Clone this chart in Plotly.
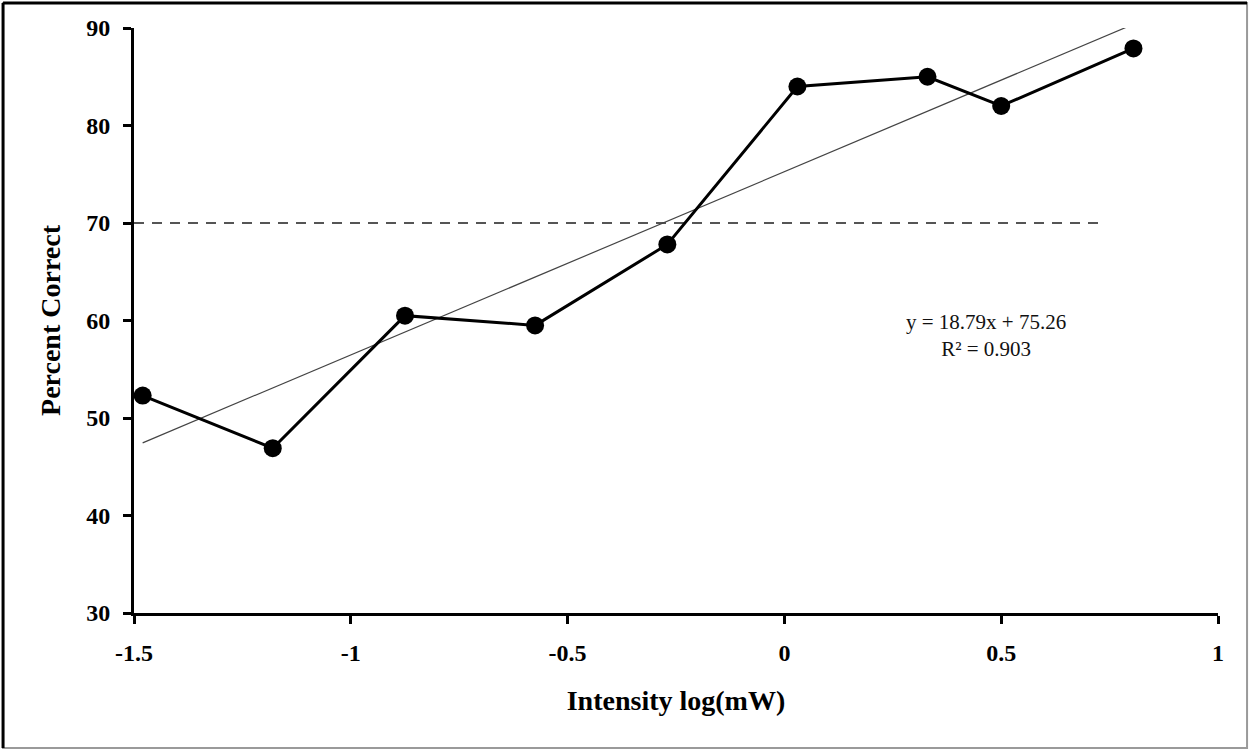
import plotly.graph_objects as go

intensity = [-1.48, -1.18, -0.875, -0.575, -0.27, 0.03, 0.33, 0.50, 0.805]
percent_correct = [52.3, 46.9, 60.5, 59.5, 67.8, 84.0, 85.0, 82.0, 87.9]
slope, intercept = 18.79, 75.26
trend_x = [-1.48, 0.795]
trend_y = [slope * x + intercept for x in trend_x]
threshold_x = [-1.5, 0.725]
threshold_y = [70, 70]
x_ticks = [-1.5, -1, -0.5, 0, 0.5, 1]
x_tick_labels = ["-1.5", "-1", "-0.5", "0", "0.5", "1"]
y_ticks = [30, 40, 50, 60, 70, 80, 90]

font = "Liberation Serif, Times New Roman, serif"

fig = go.Figure()
fig.add_trace(go.Scatter(x=threshold_x, y=threshold_y, mode="lines",
                         line=dict(color="#555555", width=2, dash="10px,8px"),
                         showlegend=False, hoverinfo="skip"))
fig.add_trace(go.Scatter(x=trend_x, y=trend_y, mode="lines",
                         line=dict(color="#444444", width=1.2),
                         showlegend=False))
fig.add_trace(go.Scatter(x=intensity, y=percent_correct, mode="lines+markers",
                         line=dict(color="black", width=3),
                         marker=dict(color="black", size=18),
                         showlegend=False))

fig.add_annotation(xref="paper", yref="paper", x=0.786, y=0.475,
                   xanchor="center", yanchor="middle",
                   text="y = 18.79x + 75.26<br>R² = 0.903", showarrow=False,
                   align="center", font=dict(family=font, size=21, color="#111111"))

# outer frame
fig.add_shape(type="rect", xref="paper", yref="paper",
              x0=-0.1208, x1=1.0268, y0=-0.2308, y1=1.0427,
              line=dict(color="#9a9a9a", width=2), layer="below")
fig.add_shape(type="line", xref="paper", yref="paper",
              x0=-0.1208, x1=-0.1208, y0=-0.2308, y1=1.0427,
              line=dict(color="black", width=3))
fig.add_shape(type="line", xref="paper", yref="paper",
              x0=-0.1208, x1=1.0268, y0=1.0427, y1=1.0427,
              line=dict(color="black", width=3))

fig.update_layout(
    width=1249, height=750,
    margin=dict(l=134, r=31, t=28, b=137),
    plot_bgcolor="white", paper_bgcolor="white",
    font=dict(family=font, size=24, color="black"),
    xaxis=dict(range=[-1.5, 1], tickvals=x_ticks, ticktext=x_tick_labels,
               showgrid=False, zeroline=False, showline=True, linecolor="black",
               linewidth=3, ticks="outside", ticklen=8, tickwidth=3, tickcolor="black",
               ticklabelstandoff=8, tickfont=dict(weight="bold", size=24),
               title=dict(text="<b>Intensity log(mW)</b>", font=dict(size=28), standoff=26)),
    yaxis=dict(range=[30, 90], tickvals=y_ticks,
               showgrid=False, zeroline=False, showline=True, linecolor="black",
               linewidth=3, ticks="outside", ticklen=8, tickwidth=3, tickcolor="black",
               ticklabelstandoff=8, tickfont=dict(weight="bold", size=24),
               title=dict(text="<b>Percent Correct</b>", font=dict(size=28), standoff=18)),
)

fig.write_html("out.html", config={"displayModeBar": False},
               post_script="document.body.style.margin='0';document.body.style.overflow='hidden';")
